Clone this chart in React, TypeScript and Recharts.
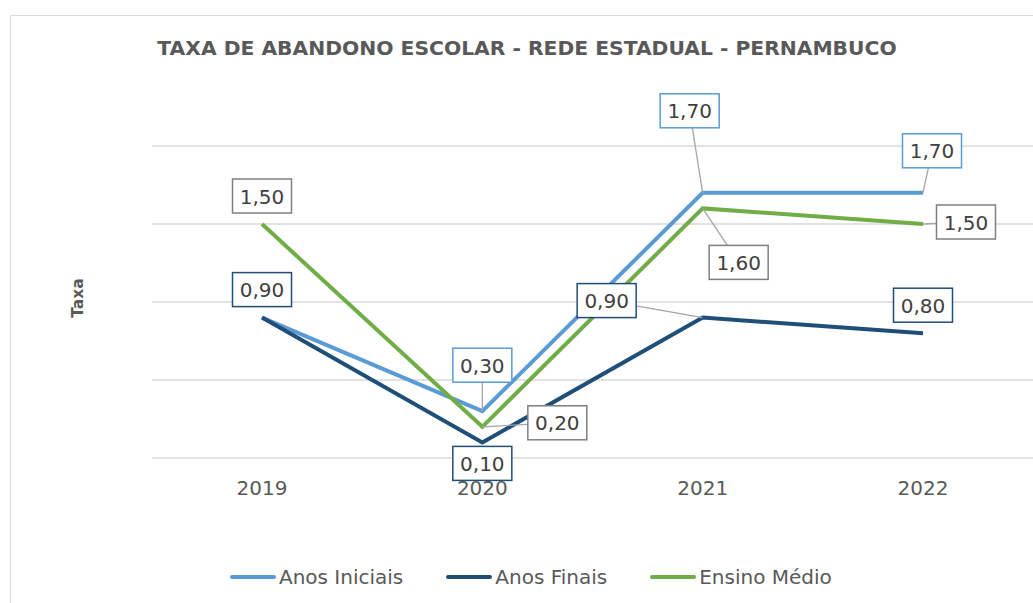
import { CartesianGrid, LabelList, Line, LineChart, XAxis, YAxis } from "recharts";

const years = ["2019", "2020", "2021", "2022"];
const anosIniciais = [0.9, 0.3, 1.7, 1.7];
const anosFinais = [0.9, 0.1, 0.9, 0.8];
const ensinoMedio = [1.5, 0.2, 1.6, 1.5];
const yTicks = [0, 0.5, 1, 1.5, 2];

const data = years.map((year, i) => ({
  year,
  iniciais: anosIniciais[i],
  finais: anosFinais[i],
  medio: ensinoMedio[i],
}));

const SERIES = [
  { key: "iniciais", name: "Anos Iniciais", color: "#5B9BD5", box: "#5B9BD5" },
  { key: "finais", name: "Anos Finais", color: "#1F4E79", box: "#1F4E79" },
  { key: "medio", name: "Ensino Médio", color: "#70AD47", box: "#7F7F7F" },
];

// where each data label box sits relative to its point (Excel moved them by hand)
const labelOffsets: Record<string, ([number, number] | null)[]> = {
  iniciais: [null, [0, -46], [-13, -82], [9, -42]],
  finais: [[0, -28], [0, 21], [-96, -17], [0, -28]],
  medio: [[0, -28], [75, -4], [36, 54], [43, -2]],
};

const FONT = "'DejaVu Sans', sans-serif";
const BOX_W = 59;
const BOX_H = 34;

const fmt = (v: number) => v.toFixed(2).replace(".", ",");

function makeLabel(key: string, border: string) {
  return (props: any) => {
    const { x, y, value, index } = props;
    const off = labelOffsets[key][index];
    if (!off || x == null || y == null) return null;
    const cx = x + off[0];
    const cy = y + off[1];
    const hw = BOX_W / 2;
    const hh = BOX_H / 2;
    // leader line: from the point to the box edge along the line to the centre
    const dx = cx - x;
    const dy = cy - y;
    let leader = null;
    const tx = dx !== 0 ? Math.abs(dx) - hw : -1;
    const ty = dy !== 0 ? Math.abs(dy) - hh : -1;
    const gap = Math.max(tx, ty);
    if (gap > 12) {
      const s = Math.min(
        dx !== 0 ? hw / Math.abs(dx) : Infinity,
        dy !== 0 ? hh / Math.abs(dy) : Infinity
      );
      const ex = cx - dx * s;
      const ey = cy - dy * s;
      leader = <line x1={x} y1={y} x2={ex} y2={ey} stroke="#A6A6A6" strokeWidth={1.3} />;
    }
    return (
      <g>
        {leader}
        <rect
          x={cx - hw}
          y={cy - hh}
          width={BOX_W}
          height={BOX_H}
          fill="#fff"
          stroke={border}
          strokeWidth={1.5}
        />
        <text
          x={cx}
          y={cy + 7.5}
          textAnchor="middle"
          fontSize={20}
          fontFamily={FONT}
          fill="#404040"
        >
          {fmt(value)}
        </text>
      </g>
    );
  };
}

function LegendBox() {
  return (
    <div style={{ display: "flex", alignItems: "center", fontFamily: FONT, fontSize: 20, color: "#595959", height: 24 }}>
      {SERIES.map((s, i) => (
        <div key={s.key} style={{ display: "flex", alignItems: "center", marginRight: i < 2 ? 42 : 0 }}>
          <svg width={48} height={10} style={{ marginRight: 2 }}>
            <line x1={3} y1={5} x2={45} y2={5} stroke={s.color} strokeWidth={4} strokeLinecap="round" />
          </svg>
          <span>{s.name}</span>
        </div>
      ))}
    </div>
  );
}

export default function App() {
  return (
    <div style={{ position: "absolute", left: 0, top: 0, width: 1033, height: 603, background: "#fff", overflow: "hidden" }}>
      <div
        style={{
          position: "absolute",
          left: 10,
          top: 15,
          width: 1100,
          height: 700,
          border: "1.5px solid #D9D9D9",
        }}
      />
      <svg style={{ position: "absolute", left: 0, top: 0 }} width={1033} height={603}>
        <text
          x={527}
          y={55}
          textAnchor="middle"
          fontFamily={FONT}
          fontWeight={700}
          fontSize={20.3}
          fill="#595959"
        >
          TAXA DE ABANDONO ESCOLAR - REDE ESTADUAL - PERNAMBUCO
        </text>
        <text
          transform="translate(83 298) rotate(-90)"
          textAnchor="middle"
          fontFamily={FONT}
          fontWeight={700}
          fontSize={15.5}
          fill="#595959"
        >
          Taxa
        </text>
      </svg>
      <div style={{ position: "absolute", left: 0, top: 0 }}>
        <LineChart width={1033} height={603} data={data} margin={{ top: 146, right: 0, left: 152, bottom: 105 }}>
          <CartesianGrid horizontal vertical={false} stroke="#D9D9D9" strokeWidth={1.5} />
          <XAxis
            dataKey="year"
            axisLine={false}
            tickLine={false}
            tickMargin={17}
            height={40}
            padding={{ left: 110, right: 110 }}
            tick={{ fontSize: 20, fill: "#595959", fontFamily: FONT }}
          />
          <YAxis hide domain={[0, 2]} ticks={yTicks} width={0} />
          {SERIES.map((s) => (
            <Line
              key={s.key}
              type="linear"
              dataKey={s.key}
              name={s.name}
              stroke={s.color}
              strokeWidth={4}
              dot={false}
              activeDot={false}
              isAnimationActive={false}
            />
          ))}
          {SERIES.map((s) => (
            <Line
              key={s.key + "-labels"}
              type="linear"
              dataKey={s.key}
              stroke="none"
              dot={false}
              activeDot={false}
              legendType="none"
              isAnimationActive={false}
            >
              <LabelList dataKey={s.key} content={makeLabel(s.key, s.box)} />
            </Line>
          ))}
        </LineChart>
      </div>
      <div style={{ position: "absolute", left: 229, top: 565 }}>
        <LegendBox />
      </div>
    </div>
  );
}
